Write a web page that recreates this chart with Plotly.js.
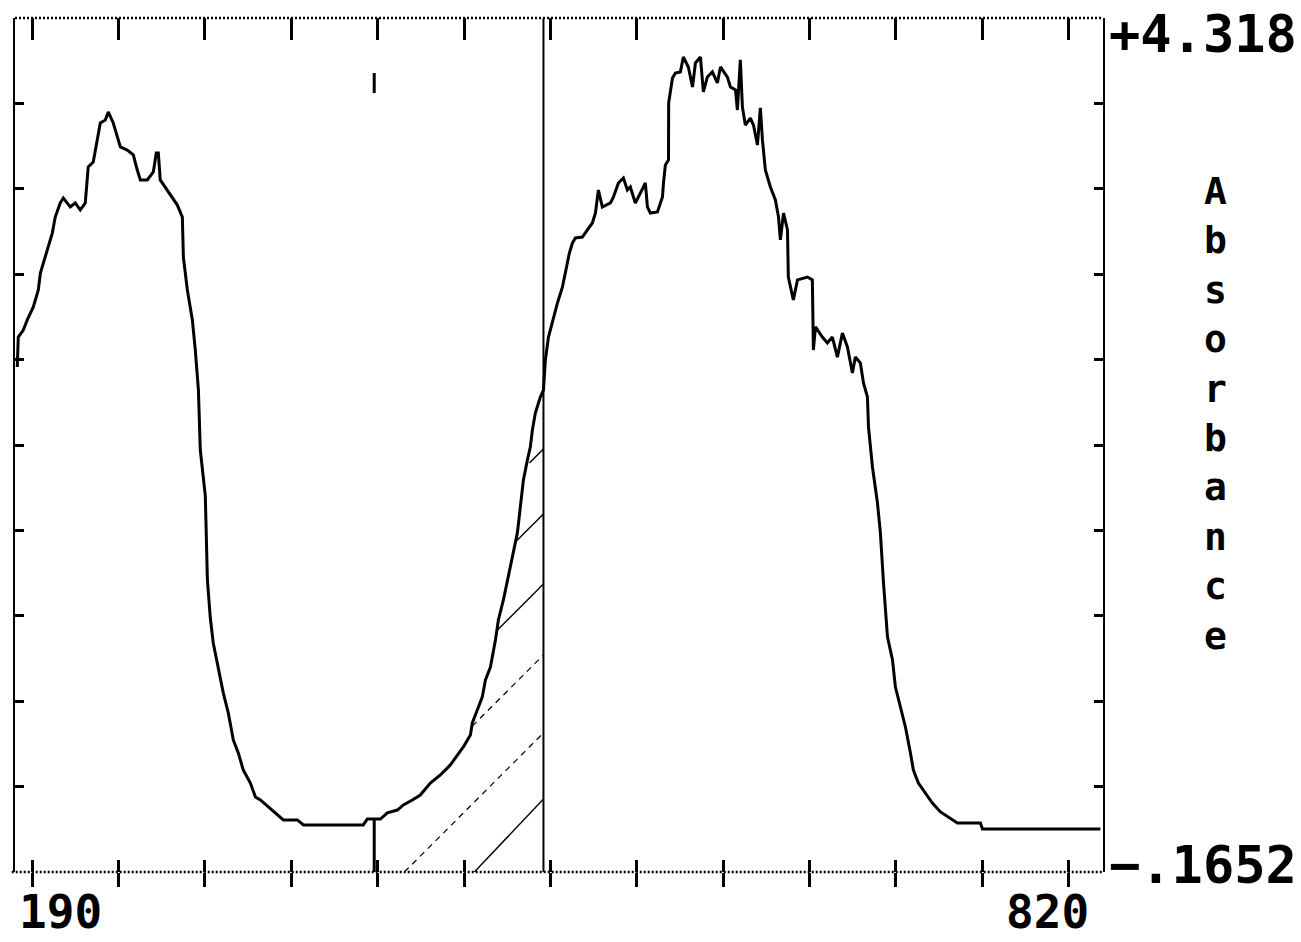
<!DOCTYPE html>
<html>
<head>
<meta charset="utf-8">
<script src="https://cdn.plot.ly/plotly-3.0.1.min.js"></script>
<style>html,body{margin:0;padding:0;background:#fff;}#chart{width:1301px;height:942px;}</style>
</head>
<body>
<div id="chart"></div>
<script>
// Wavelength (nm) and absorbance
const wavelength = [
 191.3,191.9,194.8,197.1,200.6,203.5,204.7,206.4,208.7,211.6,
 213.3,216.2,218.0,222.0,224.9,227.8,230.7,232.4,235.3,237.7,
 239.4,242.3,244.0,246.9,249.2,251.0,255.0,258.5,260.8,262.6,
 266.6,270.1,271.8,273.0,274.1,277.0,281.1,284.0,286.9,287.5,
 289.8,292.7,294.4,296.2,297.3,300.2,301.4,303.1,304.8,307.7,
 310.6,313.5,316.4,319.3,322.2,326.3,329.2,332.1,336.7,340.7,
 345.4,353.5,357.0,391.7,394.0,401.6,405.6,411.4,414.9,420.1,
 424.7,430.5,436.3,442.1,446.2,449.6,453.7,454.8,457.7,460.6,
 462.4,465.3,468.2,469.9,472.8,475.1,478.6,480.9,482.6,484.4,
 486.7,488.4,489.6,491.3,493.1,494.2,496.0,497.1,498.9,501.7,
 504.1,507.0,508.7,511.0,512.8,514.5,518.5,521.4,524.3,526.1,
 527.8,530.1,534.8,536.5,539.4,542.3,544.6,546.3,549.2,552.1,
 555.0,556.2,557.9,562.0,564.9,565.5,566.6,568.4,568.5,570.7,
 572.4,575.3,577.0,579.9,582.3,584.0,586.9,588.6,590.9,593.8,
 596.7,598.5,602.5,604.3,607.2,608.3,610.0,611.2,612.9,615.8,
 617.6,619.9,621.6,622.8,624.5,627.4,630.3,632.1,633.2,635.0,
 637.3,637.8,640.7,643.1,648.9,651.7,652.3,653.5,657.5,660.4,
 663.3,666.2,669.1,672.0,674.9,676.6,679.5,681.3,683.6,684.2,
 686.5,689.4,691.1,692.9,694.0,695.2,698.1,699.8,702.7,705.6,
 708.5,710.2,713.1,717.2,721.2,725.9,731.7,735.7,749.0,750.2,
 818.5
];
const absorbance = [
 2.486,2.643,2.680,2.733,2.801,2.890,2.979,3.032,3.100,3.189,
 3.273,3.347,3.373,3.326,3.347,3.310,3.347,3.536,3.562,3.678,
 3.767,3.783,3.825,3.767,3.693,3.641,3.625,3.599,3.520,3.468,
 3.468,3.510,3.609,3.609,3.468,3.431,3.378,3.336,3.273,3.063,
 2.890,2.733,2.575,2.365,2.050,1.809,1.368,1.168,1.037,0.906,
 0.775,0.670,0.528,0.460,0.370,0.302,0.229,0.213,0.176,0.145,
 0.108,0.108,0.082,0.082,0.113,0.113,0.145,0.160,0.187,0.213,
 0.239,0.302,0.344,0.397,0.449,0.491,0.554,0.617,0.685,0.754,
 0.843,0.911,1.053,1.158,1.263,1.368,1.510,1.615,1.751,1.893,
 1.998,2.066,2.155,2.244,2.297,2.328,2.365,2.523,2.643,2.748,
 2.822,2.906,2.979,3.084,3.137,3.163,3.168,3.205,3.242,3.294,
 3.415,3.326,3.347,3.378,3.452,3.478,3.415,3.431,3.347,3.399,
 3.452,3.326,3.294,3.300,3.378,3.452,3.546,3.573,3.872,4.003,
 4.029,4.035,4.113,4.061,3.956,4.082,4.113,3.930,4.008,4.035,
 3.977,4.061,4.008,3.956,3.940,3.835,4.098,3.851,3.756,3.793,
 3.756,3.651,3.846,3.678,3.520,3.431,3.363,3.273,3.153,3.294,
 3.205,2.958,2.838,2.943,2.958,2.943,2.575,2.696,2.643,2.612,
 2.643,2.538,2.664,2.591,2.454,2.538,2.507,2.402,2.328,2.171,
 1.961,1.772,1.615,1.352,1.210,1.069,0.948,0.806,0.701,0.596,
 0.460,0.370,0.302,0.250,0.197,0.150,0.118,0.092,0.092,0.061,
 0.061
];

// Axis extents and labels
const xMin = 190, xMax = 820;
const yMin = -0.1652, yMax = 4.318;
const xTickStart = 200, xTickStep = 50;
const yTickStep = 0.44832;
const xEndLabels = ['190', '820'];
const yEndLabels = ['+4.318', '\u2212.1652'];
const axisTitle = 'Absorbance';

// Integration cursors (nm) and their vertical extents
const cursorLeftNm = 398;
const cursorLeftAbs = [yMin, 0.113];
const cursorLeftMarkAbs = [3.924, 4.029];
const cursorRightNm = 496;
const cursorRightAbs = [yMin, yMax];

// Hatching of the integrated area (start on curve/baseline, end on right cursor)
const hatchStartNm  = [487.9, 480.3, 469.3, 456.0];
const hatchStartAbs = [1.982, 1.572, 1.105, yMin];
const hatchEndAbs   = [2.055, 1.714, 1.347, 0.218];
const hatchFaintStartNm  = [454.8, 415.5];
const hatchFaintStartAbs = [0.601, yMin];
const hatchFaintEndAbs   = [0.974, 0.565];

function segs(x0s, y0s, x1, y1s) {
  const xs = [], ys = [];
  for (let i = 0; i < x0s.length; i++) {
    xs.push(x0s[i], x1, null);
    ys.push(y0s[i], y1s[i], null);
  }
  return {xs, ys};
}
const hs = segs(hatchStartNm, hatchStartAbs, cursorRightNm, hatchEndAbs);
const hf = segs(hatchFaintStartNm, hatchFaintStartAbs, cursorRightNm, hatchFaintEndAbs);

const FONT = 'DejaVu Sans Mono, Liberation Mono, monospace';

const traces = [
  {x: wavelength, y: absorbance, type: 'scatter', mode: 'lines',
   line: {color: '#000', width: 3}, hoverinfo: 'skip'},
  {x: hs.xs, y: hs.ys, type: 'scatter', mode: 'lines',
   line: {color: '#000', width: 1.4}, connectgaps: false, hoverinfo: 'skip'},
  {x: hf.xs, y: hf.ys, type: 'scatter', mode: 'lines',
   line: {color: '#000', width: 1.2, dash: '6px,5px'}, connectgaps: false, hoverinfo: 'skip'},
  {x: [cursorLeftNm, cursorLeftNm, null, cursorLeftNm, cursorLeftNm],
   y: [cursorLeftAbs[0], cursorLeftAbs[1], null, cursorLeftMarkAbs[0], cursorLeftMarkAbs[1]],
   type: 'scatter', mode: 'lines', line: {color: '#000', width: 3}, connectgaps: false, hoverinfo: 'skip'},
  {x: [cursorRightNm, cursorRightNm], y: cursorRightAbs, type: 'scatter', mode: 'lines',
   line: {color: '#000', width: 2}, hoverinfo: 'skip'},
  {x: [], y: [], xaxis: 'x2', type: 'scatter', mode: 'lines', hoverinfo: 'skip'},
  {x: [], y: [], xaxis: 'x3', type: 'scatter', mode: 'lines', hoverinfo: 'skip'}
];

const baseX = {
  range: [xMin, xMax], tickmode: 'linear', tick0: xTickStart, dtick: xTickStep,
  showticklabels: false, showgrid: false, zeroline: false, showline: false,
  tickcolor: '#000', tickwidth: 3, fixedrange: true
};

const titleLetters = axisTitle.split('').join('<br>');

const layout = {
  width: 1301, height: 942,
  margin: {l: 15, r: 198, t: 18, b: 70},
  paper_bgcolor: '#fff', plot_bgcolor: '#fff',
  showlegend: false,
  xaxis: Object.assign({}, baseX, {ticks: 'outside', ticklen: 14, side: 'bottom'}),
  xaxis2: Object.assign({}, baseX, {ticks: 'inside', ticklen: 22, side: 'top', overlaying: 'x', anchor: 'y'}),
  xaxis3: Object.assign({}, baseX, {ticks: 'inside', ticklen: 12, side: 'bottom', overlaying: 'x', anchor: 'y'}),
  yaxis: {
    range: [yMin, yMax], tickmode: 'linear', tick0: yMin, dtick: yTickStep,
    ticks: 'inside', ticklen: 9, tickwidth: 3, tickcolor: '#000',
    showticklabels: false, showgrid: false, zeroline: false,
    showline: true, linewidth: 2, linecolor: '#000', mirror: 'ticks', fixedrange: true
  },
  shapes: [
    {type: 'line', xref: 'paper', yref: 'paper', x0: 0, x1: 1, y0: 1, y1: 1,
     line: {color: '#000', width: 2.5, dash: '2px,2px'}},
    {type: 'line', xref: 'paper', yref: 'paper', x0: -0.003, x1: 1, y0: 0, y1: 0,
     line: {color: '#000', width: 2.5, dash: '2px,2px'}}
  ],
  annotations: [
    {text: xEndLabels[0], xref: 'paper', yref: 'paper', x: 0.002, y: -0.047,
     xanchor: 'left', yanchor: 'middle', showarrow: false,
     font: {family: FONT, size: 46, color: '#000', weight: 'bold'}},
    {text: xEndLabels[1], xref: 'paper', yref: 'paper', x: 0.989, y: -0.047,
     xanchor: 'right', yanchor: 'middle', showarrow: false,
     font: {family: FONT, size: 46, color: '#000', weight: 'bold'}},
    {text: yEndLabels[0], xref: 'paper', yref: 'paper', x: 1.004, y: 0.981,
     xanchor: 'left', yanchor: 'middle', showarrow: false,
     font: {family: FONT, size: 52, color: '#000', weight: 'bold'}},
    {text: yEndLabels[1], xref: 'paper', yref: 'paper', x: 1.004, y: 0.008,
     xanchor: 'left', yanchor: 'middle', showarrow: false,
     font: {family: FONT, size: 52, color: '#000', weight: 'bold'}},
    {text: titleLetters, xref: 'paper', yref: 'paper', x: 1.103, y: 0.537,
     xanchor: 'center', yanchor: 'middle', showarrow: false, align: 'center',
     font: {family: FONT, size: 38, color: '#000', weight: 'bold'}}
  ]
};

Plotly.newPlot('chart', traces, layout, {staticPlot: true, displayModeBar: false});
</script>
</body>
</html>
